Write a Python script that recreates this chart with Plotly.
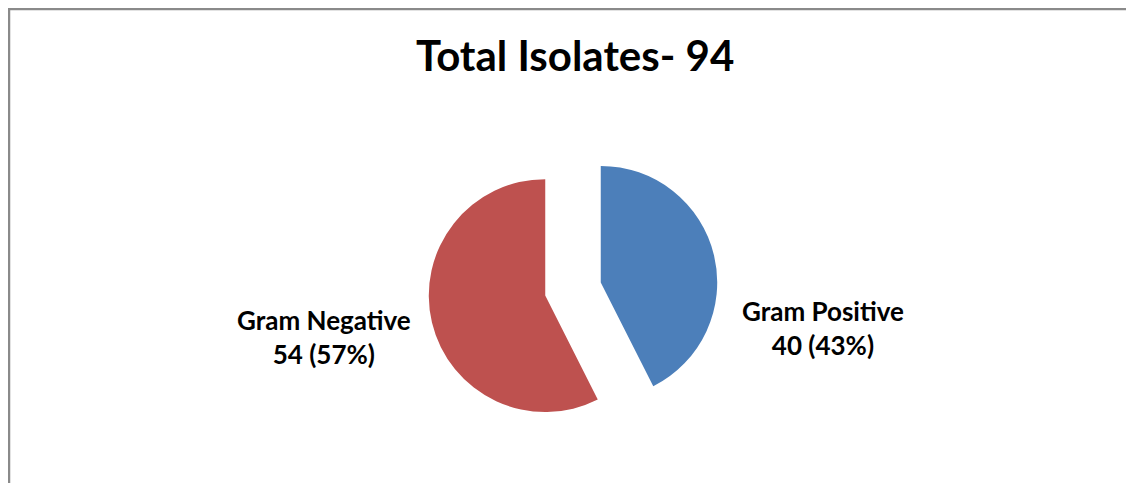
import plotly.graph_objects as go

# Data
categories = ["Gram Positive", "Gram Negative"]
counts = [40, 54]
colors = ["#4C7FBA", "#BE514F"]
total = sum(counts)
title_text = f"Total Isolates- {total}"

# page has an 8px body margin; figure sized to fit inside the window
OFF = 8
W, H = 1134 - 2 * OFF, 491 - 2 * OFF

def px(x):
    return (x - OFF) / W

def py(y):
    return 1 - (y - OFF) / H

# pie geometry (page pixels)
cx, cy = 573, 289
pull = 0.245
half = 145
fig = go.Figure(go.Pie(
    labels=categories,
    values=counts,
    sort=False,
    direction="clockwise",
    rotation=0,
    pull=[pull, pull],
    marker=dict(colors=colors, line=dict(width=0)),
    textinfo="none",
    hoverinfo="label+value+percent",
    showlegend=False,
    domain=dict(x=[px(cx - half), px(cx + half)], y=[py(cy + half), py(cy - half)]),
))

font_family = "Lato, 'Open Sans', sans-serif"
annotations = [
    dict(text=f"<b>{title_text}</b>", x=px(574.5), y=py(55.5), xref="paper", yref="paper",
         xanchor="center", yanchor="middle", showarrow=False,
         font=dict(family=font_family, size=42, color="#000000")),
]
# centre of the two-line label block (page pixels)
label_pos = {
    "Gram Positive": (823, 328),
    "Gram Negative": (324, 337),
}
for lab, val in zip(categories, counts):
    pct = round(100 * val / total)
    x, yc = label_pos[lab]
    annotations.append(dict(text=f"<b>{lab}<br>{val} ({pct}%)</b>", x=px(x), y=py(yc),
                            xref="paper", yref="paper", align="center",
                            xanchor="center", yanchor="middle", showarrow=False,
                            font=dict(family=font_family, size=26, color="#000000")))

shapes = [
    dict(type="line", xref="paper", yref="paper", x0=0, x1=1.0, y0=1 - 1 / H, y1=1 - 1 / H,
         line=dict(color="#8A8A8A", width=2.5)),
    dict(type="line", xref="paper", yref="paper", x0=1 / W, x1=1 / W, y0=1, y1=0,
         line=dict(color="#8A8A8A", width=2.5)),
]

fig.update_layout(
    width=W, height=H,
    margin=dict(l=0, r=0, t=0, b=0),
    paper_bgcolor="white",
    plot_bgcolor="white",
    annotations=annotations,
    shapes=shapes,
    modebar=dict(bgcolor="rgba(0,0,0,0)", color="rgba(0,0,0,0)", activecolor="rgba(0,0,0,0)"),
)

fig.write_html("out.html")
